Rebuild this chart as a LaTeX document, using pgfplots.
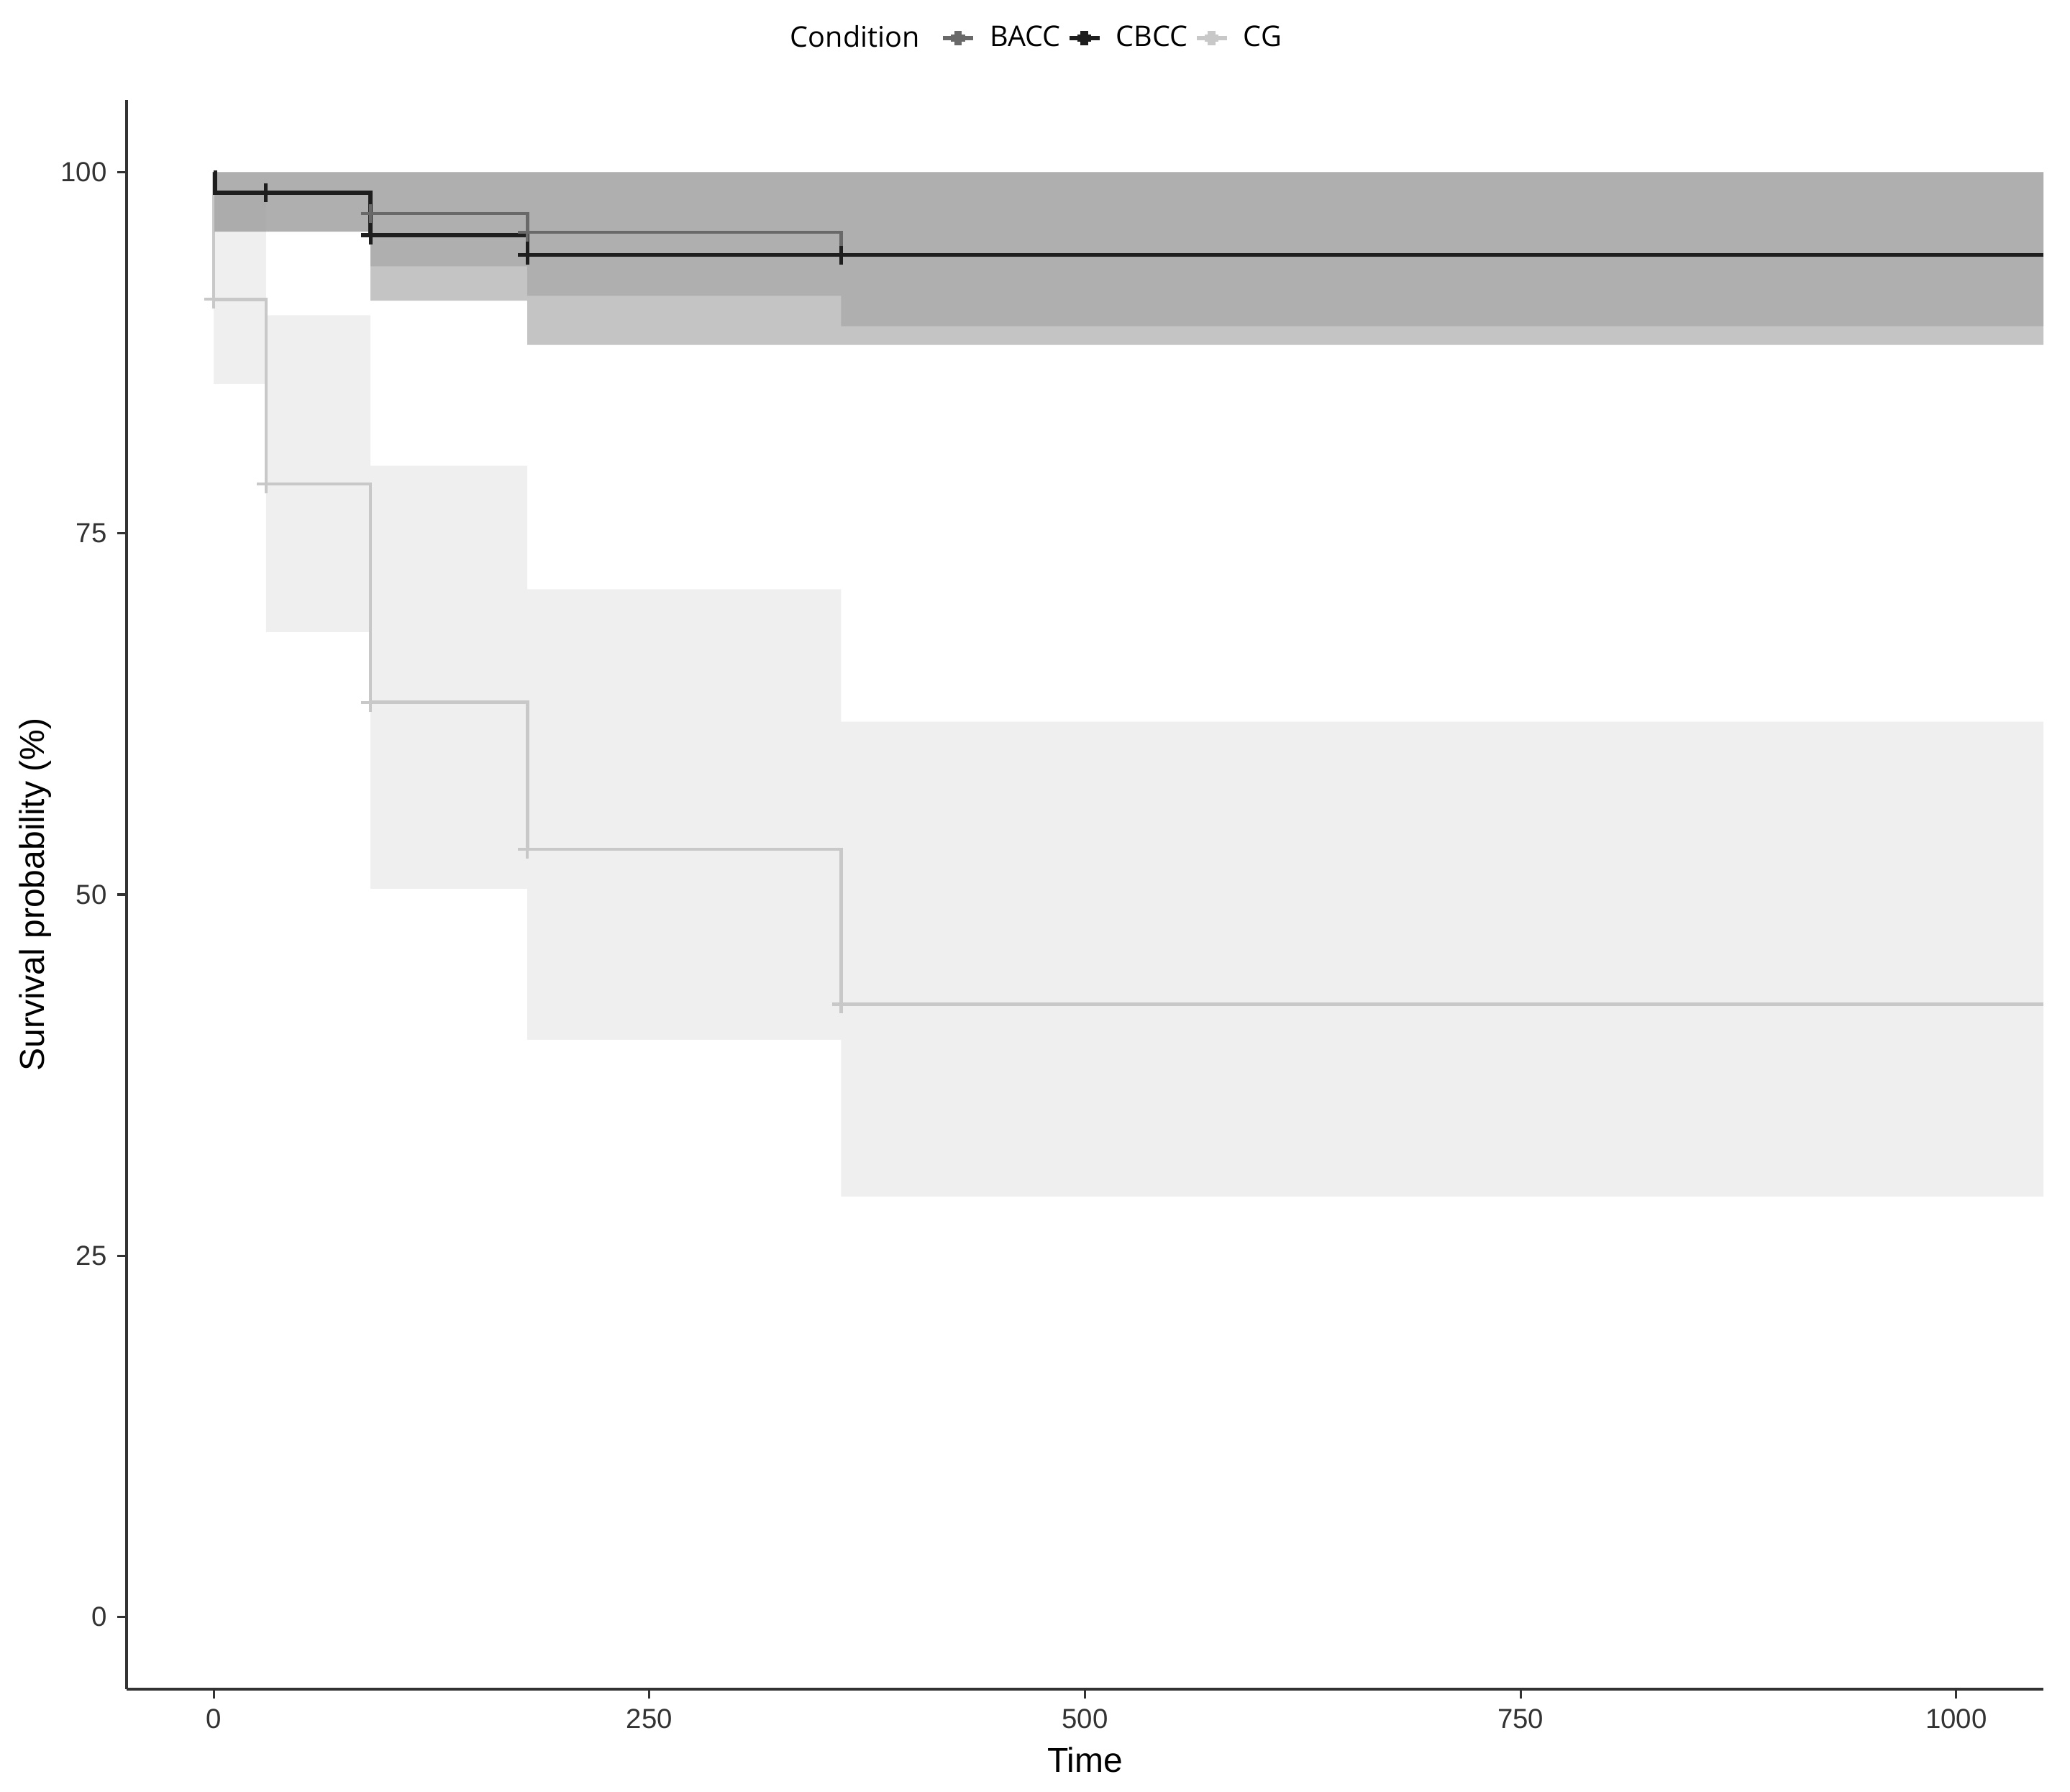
\documentclass[border=0pt]{standalone}
\usepackage{fontspec}
\setmainfont{Liberation Sans}
\newfontfamily\legfont{Open Sans}
\usepackage{pgfplots}
\pgfplotsset{compat=1.18}
\definecolor{cbcc}{RGB}{30,30,30}
\definecolor{bacc}{RGB}{105,105,105}
\definecolor{cg}{RGB}{200,200,200}
\definecolor{bandgray}{RGB}{163,163,163}
\definecolor{bandcg}{RGB}{230,230,230}
\definecolor{axgray}{RGB}{51,51,51}
\begin{document}
\begin{tikzpicture}
\path[use as bounding box] (-44pt,-35.75pt) rectangle (675.5pt,587.25pt);
\begin{axis}[
  at={(0pt,0pt)}, anchor=south west,
  scale only axis, width=666.25pt, height=552.5pt,
  xmin=-50, xmax=1050, ymin=-5, ymax=105,
  xtick={0,250,500,750,1000}, ytick={0,25,50,75,100},
  axis x line*=bottom, axis y line*=left,
  axis line style={axgray, line width=1pt, -},
  tick align=outside, major tick length=3.3pt,
  tick style={axgray, line width=0.8pt},
  /pgf/number format/assume math mode=true,
  /pgf/number format/1000 sep={},
  ticklabel style={font=\fontsize{9.6}{11}\selectfont, text=black!80},
  scaled ticks=false,
  xlabel={Time}, ylabel={Survival probability (\%)},
  label style={font=\fontsize{12}{14}\selectfont},
  xlabel style={at={(axis description cs:0.5,-0.0443)}, anchor=center},
  ylabel style={at={(axis description cs:-0.0475,0.5)}, anchor=center},
  legend style={at={(axis description cs:0.471,1.0389)}, anchor=center,
    draw=none, fill=none, legend columns=-1,
    font=\legfont\fontsize{9.9}{11}\selectfont,
    inner sep=0pt, nodes={inner sep=0.5pt},
    /tikz/every odd column/.append style={column sep=4.6pt},
    /tikz/every even column/.append style={column sep=1.8pt}},
  legend image code/.code={\draw[mark repeat=2,mark phase=2] plot coordinates {(0pt,0pt) (5.25pt,0pt) (10.5pt,0pt)};},
]
% CG band (drawn first)
\addplot[draw=none, fill=bandcg, fill opacity=0.644, forget plot] coordinates {
 (0,98.4) (30,98.4) (30,90.1) (90,90.1) (90,79.68) (180,79.68) (180,71.13) (360,71.13) (360,61.96) (1050,61.96)
 (1050,29.1) (360,29.1) (360,39.95) (180,39.95) (180,50.4) (90,50.4) (90,68.17) (30,68.17) (30,85.35) (0,85.35)};
% CG line
\addplot[const plot, cg, line width=1.15pt, forget plot] coordinates {
 (0,100) (0,91.2) (30,78.42) (90,63.3) (180,53.14) (360,42.4) (1050,42.4)};
% BACC band
\addplot[draw=none, fill=bandgray, fill opacity=0.644, forget plot] coordinates {
 (0.5,100) (1050,100) (1050,89.34) (360,89.34) (360,91.44) (180,91.44) (180,93.48) (90,93.48) (90,95.88) (0.5,95.88)};
% CBCC band
\addplot[draw=none, fill=bandgray, fill opacity=0.644, forget plot] coordinates {
 (0.5,100) (1050,100) (1050,88.05) (180,88.05) (180,91.11) (90,91.11) (90,95.88) (0.5,95.88)};
% BACC line
\addplot[const plot, bacc, line width=1.15pt, forget plot] coordinates {
 (0,100) (0.8,98.57) (90,97.13) (180,95.85) (360,94.26) (1050,94.26)};
% CBCC line
\addplot[const plot, cbcc, line width=1.35pt, forget plot] coordinates {
 (0,100) (0.8,98.57) (90,95.64) (180,94.26) (1050,94.26)};
% censor marks
\addplot[only marks, mark=+, mark size=3.2pt, cg, line width=1.1pt, forget plot] coordinates {
 (0,91.2) (30,78.42) (90,63.3) (180,53.14) (360,42.4)};
\addplot[only marks, mark=+, mark size=3.2pt, bacc, line width=1.1pt, forget plot] coordinates {
 (90,97.13) (180,95.85) (360,94.26)};
\addplot[only marks, mark=+, mark size=3.2pt, cbcc, line width=1.3pt, forget plot] coordinates {
 (30,98.57) (90,95.64) (180,94.26) (360,94.26)};
% legend
\addlegendimage{empty legend}
\addlegendentry{Condition\kern5.1pt}
\addlegendimage{bacc, line width=1.4pt, mark=+, mark size=2.4pt, mark options={line width=2.6pt}}
\addlegendentry{BACC}
\addlegendimage{cbcc, line width=1.4pt, mark=+, mark size=2.4pt, mark options={line width=2.6pt}}
\addlegendentry{CBCC}
\addlegendimage{cg, line width=1.4pt, mark=+, mark size=2.4pt, mark options={line width=2.6pt}}
\addlegendentry{CG}
\end{axis}
\end{tikzpicture}
\end{document}
